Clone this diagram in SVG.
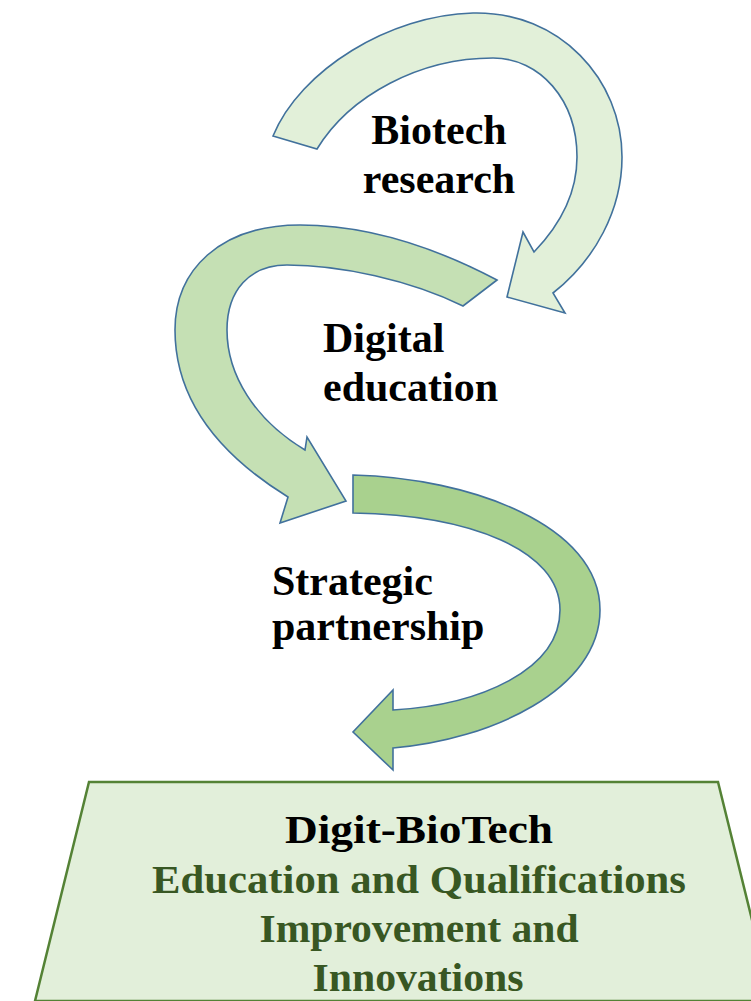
<svg xmlns="http://www.w3.org/2000/svg" width="751" height="1001" viewBox="0 0 751 1001">
<style>
.arrow{stroke:#41719c;stroke-width:1.6;stroke-linejoin:miter}
.lbl{font-family:"Liberation Serif","Times New Roman",serif;font-weight:bold;font-size:42px;fill:#000}
.base{font-family:"Liberation Serif","Times New Roman",serif;font-weight:bold;font-size:40px;text-anchor:middle}
</style>
<rect width="751" height="1001" fill="#ffffff"/>
<g id="connectors">
<path id="arrow-digital" class="arrow" fill="#c5e0b4" d="M497,280 C440,250 370,225 300,225 C220,225 175,270 175,330 C175,400 220,455 288,497 L280,523 L346,501 L307,437 L305,450 C255,420 227,375 227,330 C227,290 250,265 287,265 C340,265 410,280 463,306 Z"/>
<path id="arrow-biotech" class="arrow" fill="#e2f0d9" d="M273,136 C300,70 390,15 473,13 C560,11 622,80 622,157 C622,210 595,260 553,293 L565,313 L507,297 L523,232 L534,252 C560,225 577,195 577,157 C577,100 540,58 493,58 C420,58 350,95 317,149 Z"/>
<path id="arrow-strategic" class="arrow" fill="#a9d18e" d="M353,475 C470,478 600,525 600,610 C600,690 490,740 393,748 L393,770 L353,732 L393,690 L393,710 C480,705 560,670 560,610 C560,550 470,515 353,513 Z"/>
</g>
<g id="node-biotech">
<text class="lbl" x="439" y="144" text-anchor="middle">Biotech</text>
<text class="lbl" x="439" y="193" text-anchor="middle">research</text>
</g>
<g id="node-digital">
<text class="lbl" x="323" y="352">Digital</text>
<text class="lbl" x="323" y="401">education</text>
</g>
<g id="node-strategic">
<text class="lbl" x="272" y="595">Strategic</text>
<text class="lbl" x="272" y="640">partnership</text>
</g>
<g id="node-base">
<polygon points="89,782 718,782 772,1001 35,1001" fill="#e2efda" stroke="#548235" stroke-width="2.5"/>
<text class="base" x="419" y="843" fill="#000" textLength="268" lengthAdjust="spacingAndGlyphs">Digit-BioTech</text>
<text class="base" x="419" y="893" fill="#385723" textLength="534" lengthAdjust="spacingAndGlyphs">Education and Qualifications</text>
<text class="base" x="419" y="942" fill="#385723" textLength="319" lengthAdjust="spacingAndGlyphs">Improvement and</text>
<text class="base" x="418" y="991" fill="#385723" textLength="211" lengthAdjust="spacingAndGlyphs">Innovations</text>
</g>
</svg>
